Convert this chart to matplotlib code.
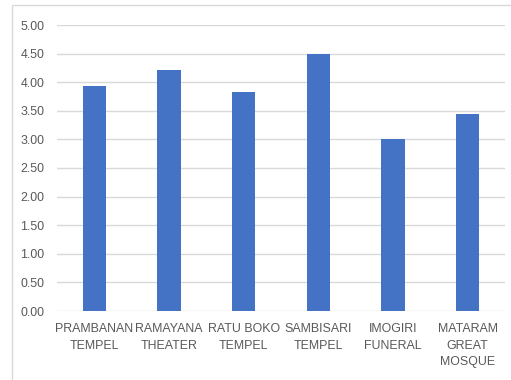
import matplotlib.pyplot as plt
from matplotlib.patches import Rectangle

categories = ['PRAMBANAN\nTEMPEL', 'RAMAYANA\nTHEATER', 'RATU BOKO\nTEMPEL',
              'SAMBISARI\nTEMPEL', 'IMOGIRI\nFUNERAL', 'MATARAM\nGREAT\nMOSQUE']
values = [3.94, 4.22, 3.83, 4.50, 3.00, 3.44]
yticks = [0, 0.5, 1, 1.5, 2, 2.5, 3, 3.5, 4, 4.5, 5]

plt.rcParams['font.family'] = ['Liberation Sans', 'DejaVu Sans']

fig = plt.figure(figsize=(5.11, 3.80), dpi=100)
ax = fig.add_axes([57 / 511, 1 - 311 / 380, 448 / 511, 286 / 380])

# outer chart border
fig.patches.append(Rectangle((12 / 511, -0.1), 1.2, 1 - 5 / 380 + 0.1, transform=fig.transFigure,
                             fill=False, edgecolor='#d9d9d9', linewidth=1))

x = range(len(categories))
ax.bar(x, values, width=0.31, color='#4472C4', zorder=3)
ax.set_xlim(-0.5, len(categories) - 0.5)
ax.set_ylim(0, 5)
ax.set_yticks(yticks)
ax.set_yticklabels(['%.2f' % v for v in yticks])
ax.set_xticks(list(x))
ax.set_xticklabels(categories, linespacing=1.5)
ax.tick_params(length=0, labelsize=8.9, colors='#595959', pad=9)
ax.tick_params(axis='y', pad=9)
ax.grid(axis='y', color='#d9d9d9', linewidth=1, zorder=0)
for s in ax.spines.values():
    s.set_visible(False)

fig.savefig('out.png', dpi=100)
